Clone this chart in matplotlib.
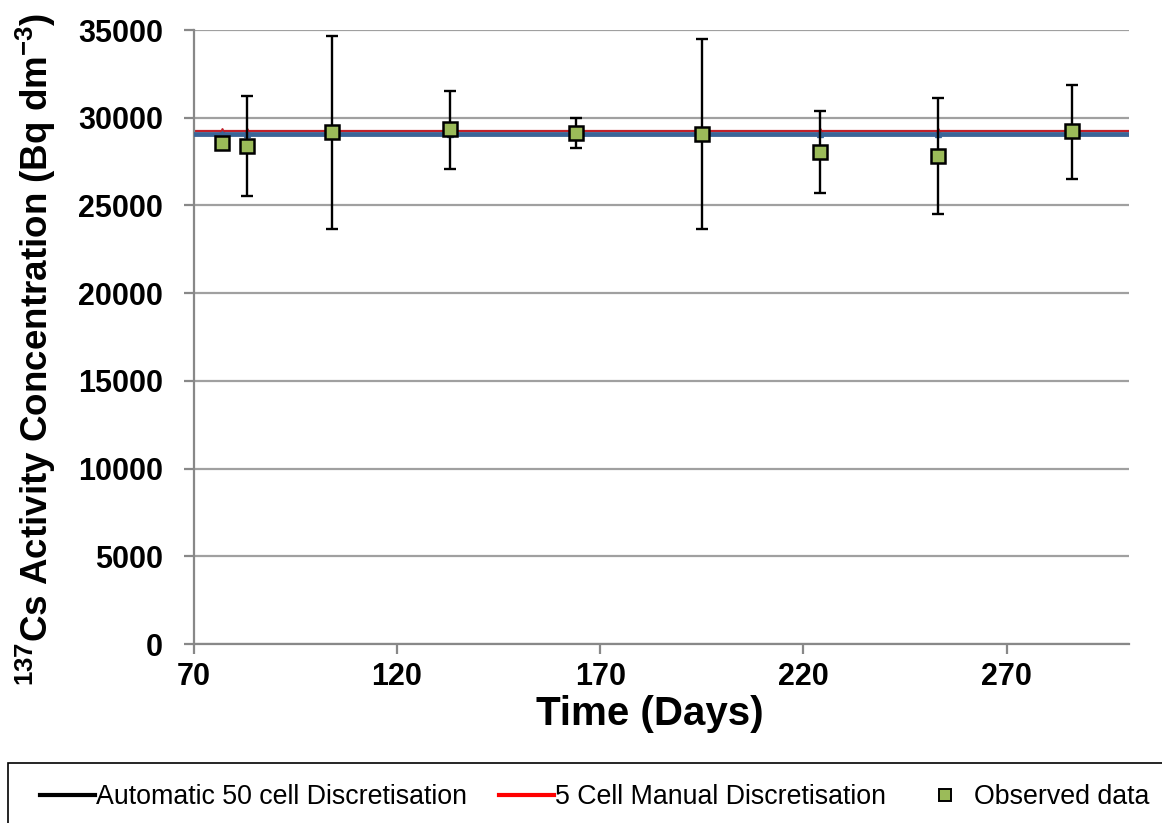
import matplotlib
matplotlib.use("Agg")
import matplotlib.pyplot as plt
from matplotlib.patches import Rectangle

# Observed 137Cs activity concentrations with measurement uncertainty
obs_days = [77, 83, 104, 133, 164, 195, 224, 253, 286]
obs_conc = [28540, 28400, 29170, 29340, 29150, 29090, 28060, 27820, 29240]
obs_upper = [28540, 31250, 34650, 31540, 29980, 34500, 30380, 31120, 31880]
obs_lower = [28540, 25520, 23660, 27080, 28270, 23660, 25730, 24490, 26520]

# Model runs
model_days = [70, 77, 83, 104, 133, 164, 195, 224, 253, 286, 300]
auto50_conc = [29100, 29100, 29100, 29100, 29100, 29100, 29100, 29100, 29100, 29100, 29100]
manual5_conc = [29270, 29270, 29270, 29270, 29270, 29270, 29270, 29270, 29270, 29270, 29270]
overlay_conc = [29100, 29100, 29100, 29100, 29100, 29100, 29100, 29100, 29100, 29100, 29100]

x_ticks = [70, 120, 170, 220, 270]
y_ticks = [0, 5000, 10000, 15000, 20000, 25000, 30000, 35000]

plt.rcParams["font.family"] = ["Liberation Sans", "DejaVu Sans"]
plt.rcParams["mathtext.fontset"] = "custom"
plt.rcParams["mathtext.rm"] = "Liberation Sans:bold"
plt.rcParams["mathtext.default"] = "rm"

fig = plt.figure(figsize=(11.62, 8.23), dpi=100)
W, H = 1162, 823
ax = fig.add_axes([193.7 / W, 1 - 644 / H, (1128.7 - 193.7) / W, (644 - 30) / H])

grid_c = "#a0a0a0"
ax.set_xlim(70, 300)
ax.set_ylim(0, 35000)
ax.set_xticks(x_ticks)
ax.set_yticks(y_ticks)
ax.yaxis.grid(True, color=grid_c, linewidth=1.6)
ax.set_axisbelow(True)
for side in ("top", "right"):
    ax.spines[side].set_visible(False)
for side in ("left", "bottom"):
    ax.spines[side].set_color("#888888")
    ax.spines[side].set_linewidth(1.6)
ax.tick_params(axis="both", direction="out", length=7, width=1.6, color="#888888",
               labelsize=22)
ax.tick_params(axis="y", pad=15)
ax.tick_params(axis="x", pad=6)
for lab in ax.get_xticklabels() + ax.get_yticklabels():
    lab.set_fontweight("bold")

ln_auto, = ax.plot(model_days, auto50_conc, color="black", linewidth=2.5, zorder=2,
                   label="Automatic 50 cell Discretisation")
ln_manual, = ax.plot(model_days, manual5_conc, color="#c0202a", linewidth=1.6, zorder=2,
                     marker="^", markersize=4, markevery=slice(1, -1),
                     markerfacecolor="#c0202a", markeredgecolor="#c0202a",
                     label="5 Cell Manual Discretisation")
ax.plot(model_days, overlay_conc, color="#3a6598", linewidth=3.4, zorder=3,
        marker="^", markersize=5, markevery=slice(1, -1),
        markerfacecolor="#3a6598", markeredgecolor="#3a6598")

err_lo = [c - l for c, l in zip(obs_conc, obs_lower)]
err_hi = [u - c for c, u in zip(obs_conc, obs_upper)]
ax.errorbar(obs_days, obs_conc, yerr=[err_lo, err_hi], fmt="none", ecolor="black",
            elinewidth=1.7, capsize=4.5, capthick=1.7, zorder=4)
ln_obs, = ax.plot(obs_days, obs_conc, linestyle="none", marker="s", markersize=10,
                  markerfacecolor="#9bbb59", markeredgecolor="black", markeredgewidth=1.8,
                  zorder=5, label="Observed data")

fig.text(650 / W, 1 - 714 / H, "Time (Days)", ha="center", va="center",
         fontsize=29, fontweight="bold")
fig.text(36 / W, 1 - 349 / H, r"$^{137}$Cs Activity Concentration (Bq dm$^{-3}$)",
         ha="center", va="center", rotation=90, fontsize=26.5, fontweight="bold")

# Legend frame running off the bottom/right of the figure
fig.patches.append(Rectangle((8 / W, -0.1), 1.2, 0.1 + (1 - 763 / H),
                             transform=fig.transFigure, fill=False,
                             edgecolor="black", linewidth=1.2))
leg_line_auto = plt.Line2D([], [], color="black", linewidth=3)
leg_line_manual = plt.Line2D([], [], color="#ff0000", linewidth=3)
leg_obs = plt.Line2D([], [], linestyle="none", marker="s", markersize=8,
                     markerfacecolor="#9bbb59", markeredgecolor="black", markeredgewidth=1.4)
fig.legend([leg_line_auto, leg_line_manual, leg_obs],
           [ln_auto.get_label(), ln_manual.get_label(), ln_obs.get_label()],
           loc="center left", bbox_to_anchor=(40 / W, 1 - 797 / H), ncol=3,
           frameon=False, fontsize=19.3, handlelength=2.05, handletextpad=0.03,
           columnspacing=1.2, borderpad=0, borderaxespad=0)

fig.savefig("out.png", dpi=100)
